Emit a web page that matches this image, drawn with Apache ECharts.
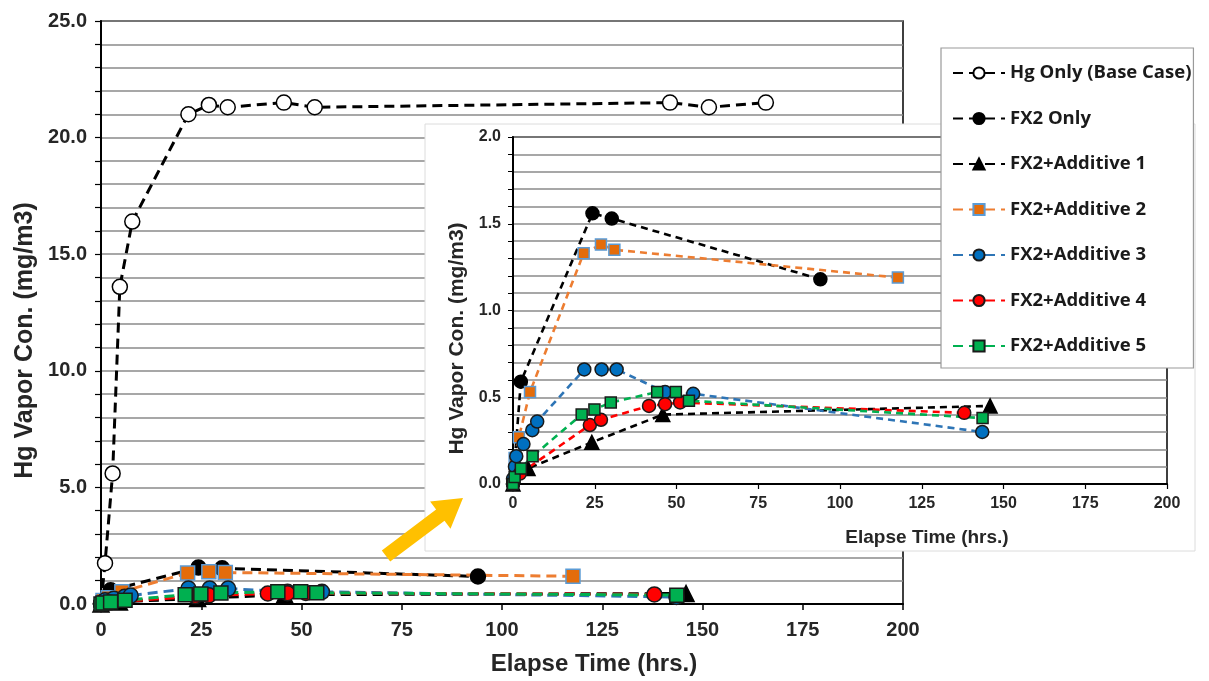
<!DOCTYPE html>
<html>
<head>
<meta charset="utf-8">
<script src="https://cdn.jsdelivr.net/npm/echarts@6/dist/echarts.min.js"></script>
<style>
  html, body { margin: 0; padding: 0; background: #fff; }
  #main { width: 1209px; height: 681px; }
</style>
</head>
<body>
<div id="main"></div>
<script>
// values, [hours, mg/m3]
var names = ['Hg Only (Base Case)', 'FX2 Only', 'FX2+Additive 1', 'FX2+Additive 2',
             'FX2+Additive 3', 'FX2+Additive 4', 'FX2+Additive 5'];
var hgOnly = [[0,0],[1,1.75],[2.9,5.6],[4.7,13.6],[7.8,16.4],[21.8,21.0],[26.9,21.4],[31.6,21.3],
              [45.6,21.5],[53.3,21.3],[141.9,21.5],[151.6,21.3],[165.8,21.5]];
var fx2Only = [[0,0],[2.4,0.59],[24.3,1.56],[30.2,1.53],[94,1.18]];
var add1 = [[0,0],[4.6,0.09],[24.1,0.24],[45.8,0.40],[145.9,0.45]];
var add2 = [[0.5,0.15],[1.8,0.27],[5.2,0.53],[21.6,1.33],[26.9,1.38],[31,1.35],[117.7,1.19]];
var add3 = [[0,0.03],[0.6,0.10],[1.0,0.16],[3.2,0.23],[5.9,0.31],[7.4,0.36],[21.8,0.66],[27.1,0.66],
            [31.7,0.66],[46.5,0.53],[55.1,0.52],[143.5,0.30]];
var add4 = [[0,0],[2.1,0.06],[23.5,0.34],[26.9,0.37],[41.6,0.45],[46.5,0.46],[51.1,0.47],[138,0.41]];
var add5 = [[0,0],[0.5,0.04],[2.4,0.09],[6,0.16],[21,0.40],[24.9,0.43],[29.9,0.47],[44.1,0.53],
            [49.8,0.53],[53.8,0.48],[143.6,0.38]];

var look = [
  {data: hgOnly,  sym: 'circle',   line: '#000',    fill: '#fff',    border: '#000'},
  {data: fx2Only, sym: 'circle',   line: '#000',    fill: '#000',    border: '#000'},
  {data: add1,    sym: 'triangle', line: '#000',    fill: '#000',    border: '#000'},
  {data: add2,    sym: 'rect',     line: '#ED7D31', fill: '#E46C0A', border: '#5B9BD5'},
  {data: add3,    sym: 'circle',   line: '#2E75B6', fill: '#0070C0', border: '#1a1a1a'},
  {data: add4,    sym: 'circle',   line: '#FF0000', fill: '#FF0000', border: '#1a1a1a'},
  {data: add5,    sym: 'rect',     line: '#00B050', fill: '#00B050', border: '#1a1a1a'}
];

function symSize(sym, big) {
  if (sym === 'rect') return big ? 14 : 11;
  if (sym === 'triangle') return big ? 16 : 14;
  return big ? 15 : 13;
}

var series = [];
look.forEach(function (s, i) {
  series.push({
    name: names[i], type: 'line', xAxisIndex: 0, yAxisIndex: 0, z: 2,
    data: s.data, symbol: s.sym, symbolSize: symSize(s.sym, true),
    lineStyle: {color: s.line, width: 3, type: [10, 6]},
    itemStyle: {color: s.fill, borderColor: s.border, borderWidth: 1.5},
    emphasis: {disabled: true}, animation: false
  });
});
look.forEach(function (s, i) {
  if (i === 0) return;
  series.push({
    name: names[i], type: 'line', xAxisIndex: 1, yAxisIndex: 1, z: 4,
    data: s.data, symbol: s.sym, symbolSize: symSize(s.sym, false),
    lineStyle: {color: s.line, width: 2.6, type: [7, 5]},
    itemStyle: {color: s.fill, borderColor: s.border, borderWidth: 1.5},
    emphasis: {disabled: true}, animation: false
  });
});

var bold = {fontFamily: 'Liberation Sans', fontWeight: 'bold', color: '#262626'};

var chart = echarts.init(document.getElementById('main'));
chart.setOption({
  backgroundColor: '#fff',
  animation: false,
  grid: [
    {left: 101, top: 21, right: 306, bottom: 74, show: true, borderColor: '#000', borderWidth: 1.5, z: 0},
    {left: 513, top: 137, right: 42, bottom: 197, show: true, borderColor: '#000', borderWidth: 1.5, z: 3}
  ],
  xAxis: [{
    gridIndex: 0, type: 'value', min: 0, max: 200, interval: 25,
    axisLine: {lineStyle: {color: '#000', width: 2}},
    axisTick: {show: true, length: 6, lineStyle: {color: '#000', width: 1.5}},
    axisLabel: Object.assign({fontSize: 20, margin: 16}, bold),
    splitLine: {show: false},
    name: 'Elapse Time (hrs.)', nameLocation: 'middle', nameGap: 48,
    nameTextStyle: Object.assign({fontSize: 24, padding: [0, 0, 0, 184]}, bold)
  }, {
    gridIndex: 1, type: 'value', min: 0, max: 200, interval: 25, z: 3,
    axisLine: {lineStyle: {color: '#000', width: 2}},
    axisTick: {show: true, length: 5, lineStyle: {color: '#000', width: 1.2}},
    axisLabel: Object.assign({fontSize: 16, margin: 12}, bold),
    splitLine: {show: false},
    name: 'Elapse Time (hrs.)', nameLocation: 'middle', nameGap: 44,
    nameTextStyle: Object.assign({fontSize: 19, padding: [0, 0, 0, 174]}, bold)
  }],
  yAxis: [{
    gridIndex: 0, type: 'value', min: 0, max: 25, interval: 1,
    axisLine: {lineStyle: {color: '#000', width: 2}},
    axisTick: {show: true, length: 6, lineStyle: {color: '#000', width: 1.2}},
    axisLabel: Object.assign({fontSize: 20, margin: 14, formatter: function (v) {
      return v % 5 === 0 ? v.toFixed(1) : '';
    }}, bold),
    splitLine: {show: true, lineStyle: {color: '#8a8a8a', width: 1.5}},
    name: 'Hg Vapor Con. (mg/m3)', nameLocation: 'middle', nameGap: 61,
    nameTextStyle: Object.assign({fontSize: 25, padding: [0, 56, 0, 0]}, bold)
  }, {
    gridIndex: 1, type: 'value', min: 0, max: 2, interval: 0.1, z: 3,
    axisLine: {lineStyle: {color: '#000', width: 2}},
    axisTick: {show: true, length: 5, lineStyle: {color: '#000', width: 1}},
    axisLabel: Object.assign({fontSize: 16, margin: 12, formatter: function (v) {
      return Math.abs(v * 2 - Math.round(v * 2)) < 1e-6 ? v.toFixed(1) : '';
    }}, bold),
    splitLine: {show: true, lineStyle: {color: '#8a8a8a', width: 1.5}},
    name: 'Hg Vapor Con. (mg/m3)', nameLocation: 'middle', nameGap: 45,
    nameTextStyle: Object.assign({fontSize: 21, padding: [0, 56, 0, 0]}, bold)
  }],
  legend: {
    data: names, orient: 'vertical', left: 941, top: 48, z: 8,
    backgroundColor: '#fff', borderColor: '#9a9a9a', borderWidth: 1.2,
    padding: [15, 2, 12, 11], itemWidth: 52, itemHeight: 14, itemGap: 25.5,
    textStyle: {fontFamily: 'Open Sans', fontWeight: 'bold', fontSize: 18.5, color: '#1a1a1a', lineHeight: 20},
    selectedMode: false
  },
  graphic: [{
    type: 'rect', z: 1,
    shape: {x: 425, y: 124, width: 770, height: 427},
    style: {fill: '#fff', stroke: '#dcdcdc', lineWidth: 1}
  }, {
    type: 'polygon', z: 9,
    shape: {points: [[390.2,561.6],[444.5,520.7],[450.5,528.7],[463,498],[430.1,501.5],[436.1,509.5],[381.8,550.4]]},
    style: {fill: '#FFC000'}
  }],
  series: series
});
</script>
</body>
</html>
